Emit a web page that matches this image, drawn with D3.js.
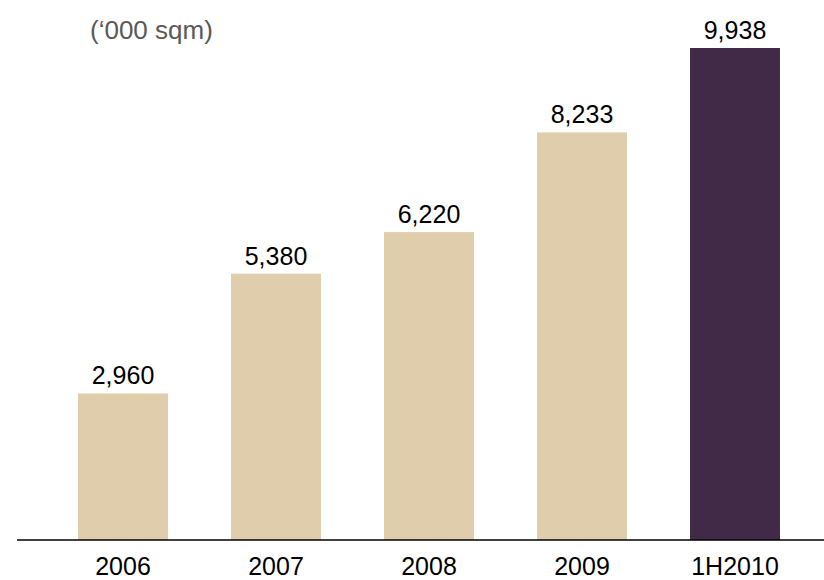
<!DOCTYPE html>
<html>
<head>
<meta charset="utf-8">
<script src="https://cdn.jsdelivr.net/npm/d3@7"></script>
<style>
  html, body { margin: 0; padding: 0; background: #fff; }
  svg { display: block; font-family: "Liberation Sans", Arial, sans-serif; }
</style>
</head>
<body>
<svg id="chart" width="824" height="580"></svg>
<script>
const categories = ["2006", "2007", "2008", "2009", "1H2010"];
const values = [2960, 5380, 6220, 8233, 9938];
const highlight = [false, false, false, false, true];
const unitLabel = "(\u2018000 sqm)";

const svg = d3.select("#chart");
const baseY = 540;

const x = d3.scaleBand()
  .domain(categories)
  .range([46.5, 811.5])
  .paddingInner(0.412)
  .paddingOuter(0.206);

const y = d3.scaleLinear()
  .domain([0, 9938])
  .range([baseY, 48]);

const fmt = d3.format(",");

svg.selectAll("rect.bar")
  .data(categories)
  .join("rect")
  .attr("class", "bar")
  .attr("x", d => x(d))
  .attr("width", x.bandwidth())
  .attr("y", (d, i) => y(values[i]))
  .attr("height", (d, i) => baseY - y(values[i]))
  .attr("fill", (d, i) => highlight[i] ? "#412a47" : "#dfcdac");

svg.selectAll("text.val")
  .data(categories)
  .join("text")
  .attr("class", "val")
  .attr("x", d => x(d) + x.bandwidth() / 2)
  .attr("y", (d, i) => y(values[i]) - 9)
  .attr("text-anchor", "middle")
  .attr("font-size", 25)
  .attr("fill", "#000")
  .text((d, i) => fmt(values[i]));

// x axis
const axis = d3.axisBottom(x).tickSize(0).tickPadding(0);
const gAxis = svg.append("g")
  .attr("transform", `translate(0,${baseY})`)
  .call(axis);
gAxis.select(".domain").remove();
gAxis.selectAll("text")
  .attr("font-size", 25)
  .attr("fill", "#000")
  .attr("dy", null)
  .attr("y", 35)
  .style("font-family", "'Liberation Sans', Arial, sans-serif");

svg.append("line")
  .attr("x1", 17).attr("x2", 824)
  .attr("y1", baseY).attr("y2", baseY)
  .attr("stroke", "#000")
  .attr("stroke-width", 1.5);

svg.append("text")
  .attr("x", 90)
  .attr("y", 39)
  .attr("font-size", 26)
  .attr("fill", "#595959")
  .text(unitLabel);
</script>
</body>
</html>
